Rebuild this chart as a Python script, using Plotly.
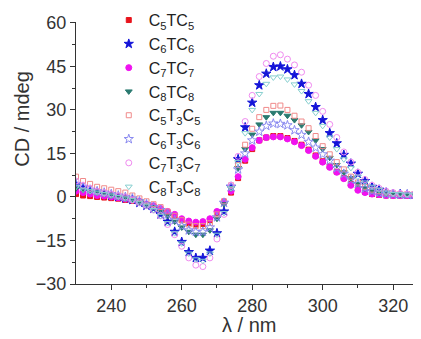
import plotly.graph_objects as go

wavelength = list(range(230, 331, 2))

c5tc5 = [1, 0.5, 0.3, 0, -0.2, -0.4, -0.6, -1, -1.3, -2, -2.8, -3.5, -4.5, -5.5, -6.5, -8, -9, -9.5, -9.3, -8,
         -5.5, -2, 1.5, 6.5, 12.5, 16.5, 19.5, 20.5, 21, 21, 20.3, 19.3, 18, 16.3, 14.3, 12.3, 10.5, 8.7, 6.5, 4.5,
         2.8, 1.7, 1, 0.7, 0.5, 0.5, 0.5, 0.5, 0.5, 0.5, 0.5]
c6tc6 = [4, 3, 2, 1.5, 1, 0.5, 0, -0.5, -1, -2, -3, -4, -6, -8.5, -12, -15.5, -19, -21, -21, -18.5,
         -12.5, -5, 3.5, 13, 24, 32.5, 38.5, 42.5, 44.8, 45, 44, 42, 39, 35.5, 31, 26.5, 22, 18.5, 14.5, 11.5,
         8, 5.5, 3.5, 2.5, 1.5, 1, 1, 0.8, 0.8, 0.8, 0.8]
c7tc7 = [2, 1.5, 1, 0.5, 0.3, 0, -0.3, -0.7, -1, -1.5, -2.5, -3, -4, -5, -6, -7.5, -8.3, -8.7, -8.5, -7.5,
         -5, -1.5, 2, 7, 13, 17, 19.5, 20.5, 20.7, 20.7, 20, 19, 17.7, 16, 14, 12, 10.2, 8.5, 6.3, 4,
         2.3, 1.5, 1, 0.8, 0.5, 0.5, 0.5, 0.5, 0.5, 0.5, 0.5]
c8tc8 = [3, 2.5, 2, 1.5, 1, 0.5, 0, -0.5, -1, -1.5, -2.5, -3.5, -5, -6.5, -8.5, -10.5, -12, -13, -13, -11.5,
         -7.5, -2.5, 3, 10, 16.5, 21.5, 25, 27.5, 29, 29, 28, 26.5, 24.7, 22.4, 19.5, 16.5, 13.5, 11, 8.5, 6.5,
         4.5, 3, 2, 1.5, 1, 1, 0.8, 0.8, 0.8, 0.8, 0.8]
c5t3c5 = [7, 5.5, 4.5, 3.5, 3, 2.5, 2, 1.5, 0.5, -0.5, -1.5, -2.5, -3.5, -5, -6.5, -8, -9.5, -10, -10, -9,
          -6, -1.5, 4, 11, 18, 23.5, 27.5, 30, 31.4, 31.5, 30, 28, 26, 23.7, 21, 17.5, 14.7, 12, 9.5, 7,
          5, 3.5, 2.5, 2, 1.5, 1.2, 1, 1, 1, 1, 1]
c6t3c6 = [4.5, 3.5, 2.5, 2, 1.5, 1, 0.5, 0, -0.5, -1.5, -2.5, -3.5, -4.5, -6, -8, -10, -11.5, -12, -12, -10.5,
          -7, -2, 3.5, 9.5, 15, 19.5, 22.5, 24.5, 25.3, 25.2, 24.7, 23, 21.4, 19, 17, 14.7, 12.5, 10, 8, 6,
          4.5, 3, 2, 1.5, 1, 1, 0.8, 0.8, 0.8, 0.8, 0.8]
c7t3c7 = [5.5, 4, 3, 2, 1.5, 1, 0.5, 0, -1, -2, -3, -4.5, -6.5, -9.5, -13, -17, -21, -23.5, -24, -21,
          -14.5, -6, 4, 14, 26, 35, 41.5, 46, 48.5, 49, 47.5, 45.5, 43, 38.5, 35, 29.5, 25, 20.5, 15.5, 12,
          8.5, 6, 4, 3, 2, 1.5, 1.2, 1, 1, 1, 1]
c8t3c8 = [3.5, 2.5, 2, 1.5, 1, 0.5, 0, -0.5, -1, -2, -3, -4.5, -6.5, -9, -12.5, -16, -19.5, -21.5, -22, -19.5,
          -13, -5.5, 3, 12, 22, 30, 35.5, 39, 41.2, 41.5, 40.5, 38.8, 36.5, 33, 29, 24.5, 20.5, 16.5, 13, 10,
          7, 5, 3.5, 2.5, 1.5, 1, 1, 0.8, 0.8, 0.8, 0.8]

names = ["C<sub>5</sub>TC<sub>5</sub>", "C<sub>6</sub>TC<sub>6</sub>", "C<sub>7</sub>TC<sub>7</sub>",
         "C<sub>8</sub>TC<sub>8</sub>", "C<sub>5</sub>T<sub>3</sub>C<sub>5</sub>",
         "C<sub>6</sub>T<sub>3</sub>C<sub>6</sub>", "C<sub>7</sub>T<sub>3</sub>C<sub>7</sub>",
         "C<sub>8</sub>T<sub>3</sub>C<sub>8</sub>"]
series = [c5tc5, c6tc6, c7tc7, c8tc8, c5t3c5, c6t3c6, c7t3c7, c8t3c8]
symbols = ["square", "star", "circle", "triangle-down", "square-open", "star-open", "circle-open",
           "triangle-down-open"]
colors = ["#e8141c", "#1414d8", "#f012f0", "#2a7a70", "#f08a8a", "#8a8af0", "#f08af0", "#86cfcf"]
sizes = [5, 7, 6, 6, 5, 7, 6, 6]

fig = go.Figure()
for nm, ys, sym, col, sz in zip(names, series, symbols, colors, sizes):
    fig.add_trace(go.Scatter(
        x=wavelength, y=ys, mode="markers", name=nm,
        marker=dict(symbol=sym, color=col, size=sz, line=dict(color=col, width=1)),
    ))

# page has an 8 px body margin: figure occupies page (8,8)-(421,339)
font_family = "Liberation Sans, Arial, sans-serif"
fig.update_layout(
    width=413, height=331,
    margin=dict(l=68, r=0, t=14, b=55, autoexpand=False),
    paper_bgcolor="white", plot_bgcolor="white",
    font=dict(family=font_family, size=18, color="#333"),
    showlegend=True,
    legend=dict(x=0.095, y=1.072, xanchor="left", yanchor="top", bgcolor="rgba(0,0,0,0)",
                font=dict(size=16, color="#222"), itemsizing="trace", tracegroupgap=0, maxheight=400),
    xaxis=dict(range=[230, 327.9], tickmode="array", tickvals=[240, 260, 280, 300, 320],
               ticks="outside", ticklen=5, tickwidth=1, tickcolor="#333", automargin=False,
               showline=True, linecolor="#333", linewidth=1, showgrid=False, zeroline=False,
               minor=dict(tickvals=[250, 270, 290, 310], ticks="outside", ticklen=3, tickcolor="#333")),
    yaxis=dict(range=[-30, 60.3], tickmode="array", tickvals=[-30, -15, 0, 15, 30, 45, 60],
               ticks="outside", ticklen=5, tickwidth=1, tickcolor="#333", automargin=False,
               showline=True, linecolor="#333", linewidth=1, showgrid=False, zeroline=False,
               minor=dict(tickvals=[-22.5, -7.5, 7.5, 22.5, 37.5, 52.5], ticks="outside", ticklen=3,
                          tickcolor="#333")),
    annotations=[
        dict(text="CD / mdeg", xref="paper", yref="paper", x=-0.157, y=0.63, textangle=-90,
             showarrow=False, xanchor="center", yanchor="middle", font=dict(size=20, color="#333")),
        dict(text="λ / nm", xref="paper", yref="paper", x=0.5, y=-0.155, showarrow=False,
             xanchor="center", yanchor="middle", font=dict(size=20, color="#333")),
    ],
)

fig.write_html("out.html")
